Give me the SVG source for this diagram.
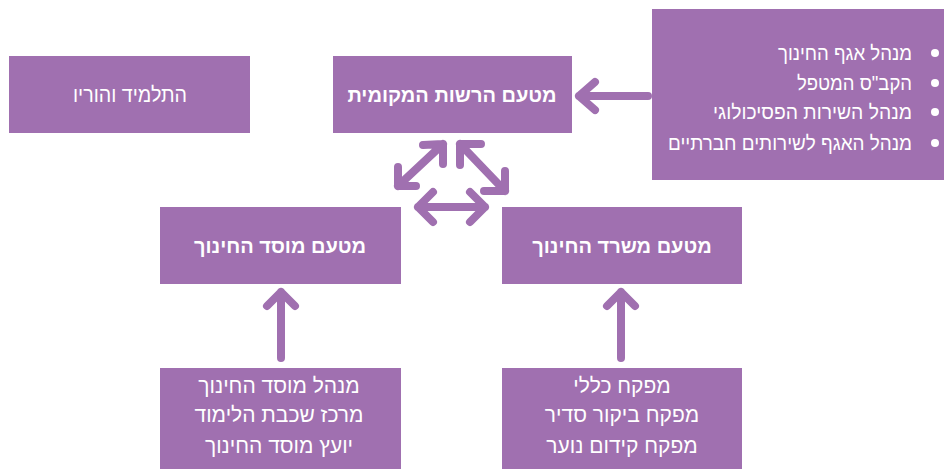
<svg xmlns="http://www.w3.org/2000/svg" width="946" height="469" viewBox="0 0 946 469">
<style>
.box{fill:#a070b0}
.h{font-family:"Liberation Sans","DejaVu Sans",sans-serif;font-weight:bold;font-size:20px;fill:#fff;text-anchor:middle}
.t{font-family:"Liberation Sans","DejaVu Sans",sans-serif;font-size:21px;fill:#fff;text-anchor:middle}
.b{font-family:"Liberation Sans","DejaVu Sans",sans-serif;font-size:20px;fill:#fff;text-anchor:end}
.c{fill:none;stroke:#a070b0;stroke-width:8;stroke-linecap:round;stroke-linejoin:round}
</style>
<rect width="946" height="469" fill="#fff"/>
<g id="student">
<rect class="box" x="9" y="56" width="241" height="77"/>
<text class="t" x="130" y="102" textLength="114" lengthAdjust="spacingAndGlyphs">התלמיד והוריו</text>
</g>
<g id="local">
<rect class="box" x="333" y="56" width="239" height="77"/>
<text class="h" x="452" y="102">מטעם הרשות המקומית</text>
</g>
<g id="local-list">
<rect class="box" x="652" y="9" width="292" height="171"/>
<text class="b" x="912" y="60" textLength="134" lengthAdjust="spacingAndGlyphs">מנהל אגף החינוך</text>
<text class="b" x="912" y="90" textLength="115" lengthAdjust="spacingAndGlyphs">הקב"ס המטפל</text>
<text class="b" x="912" y="119" textLength="199" lengthAdjust="spacingAndGlyphs">מנהל השירות הפסיכולוגי</text>
<text class="b" x="912" y="150" textLength="244" lengthAdjust="spacingAndGlyphs">מנהל האגף לשירותים חברתיים</text>
<circle cx="935" cy="53" r="4" fill="#fff"/>
<circle cx="935" cy="83" r="4" fill="#fff"/>
<circle cx="935" cy="112" r="4" fill="#fff"/>
<circle cx="935" cy="143" r="4" fill="#fff"/>
</g>
<g id="school">
<rect class="box" x="160" y="207" width="241" height="77"/>
<text class="h" x="280" y="253">מטעם מוסד החינוך</text>
</g>
<g id="ministry">
<rect class="box" x="502" y="207" width="240" height="77"/>
<text class="h" x="622" y="253">מטעם משרד החינוך</text>
</g>
<g id="school-list">
<rect class="box" x="160" y="368" width="241" height="101"/>
<text class="t" x="279" y="393">מנהל מוסד החינוך</text>
<text class="t" x="279" y="422">מרכז שכבת הלימוד</text>
<text class="t" x="279" y="453">יועץ מוסד החינוך</text>
</g>
<g id="ministry-list">
<rect class="box" x="502" y="368" width="240" height="101"/>
<text class="t" x="622" y="393">מפקח כללי</text>
<text class="t" x="622" y="422">מפקח ביקור סדיר</text>
<text class="t" x="622" y="453">מפקח קידום נוער</text>
</g>
<g id="connectors">
<path class="c" d="M648 96 H579 M595 82 L579 96 L595 110"/>
<path class="c" d="M443 144 L398 186 M423 145 L443 144 L443 164 M398 167 L398 186 L416 186"/>
<path class="c" d="M460 144 L505 191 M481 144 L460 144 L460 165 M505 171 L505 191 L484 191"/>
<path class="c" d="M418 207 H485 M433 192 L418 207 L433 222 M470 192 L485 207 L470 222"/>
<path class="c" d="M281 358 V292 M267 306 L281 292 L295 306"/>
<path class="c" d="M621 358 V292 M607 306 L621 292 L635 306"/>
</g>
</svg>
